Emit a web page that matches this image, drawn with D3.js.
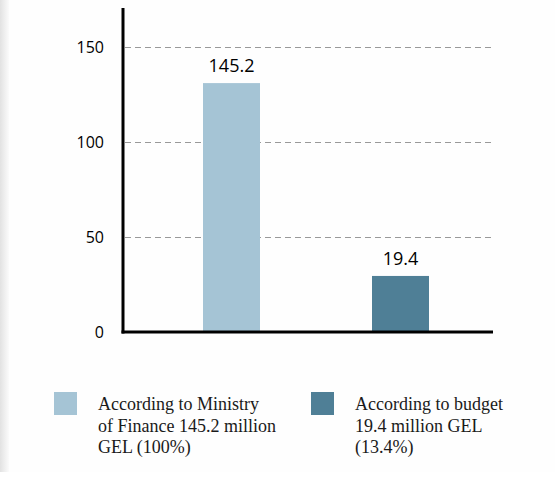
<!DOCTYPE html>
<html><head><meta charset="utf-8">
<script src="https://cdn.jsdelivr.net/npm/d3@7/dist/d3.min.js"></script>
<style>
html,body{margin:0;padding:0;background:#fff;}
svg{display:block;}
</style></head>
<body>
<svg id="c" width="555" height="479"></svg>
<script>
const categories = ["According to Ministry of Finance", "According to budget"];
// bar heights as drawn in the picture (labels differ from drawn heights)
const barValues = [131, 29.5];
const valueLabels = ["145.2", "19.4"];
const colors = ["#a5c4d5", "#4f7f96"];
const yTicks = [0, 50, 100, 150];
const legendLines = [
  ["According to Ministry", "of Finance 145.2 million", "GEL (100%)"],
  ["According to budget", "19.4 million GEL", "(13.4%)"]
];

const svg = d3.select("#c");
const defs = svg.append("defs");
const g = defs.append("linearGradient").attr("id","edge").attr("x1","0").attr("x2","1");
g.append("stop").attr("offset","0").attr("stop-color","#e2e2e2");
g.append("stop").attr("offset","1").attr("stop-color","#fbfbfb");
svg.append("rect").attr("x",0).attr("y",0).attr("width",555).attr("height",472).attr("fill","#fefefe");
svg.append("rect").attr("x",0).attr("y",0).attr("width",9).attr("height",472).attr("fill","url(#edge)");

const y = d3.scaleLinear().domain([0,170]).range([332,9]);
const x = d3.scaleBand().domain(categories).range([147,485]).paddingInner(112/169).paddingOuter(56/169);

// gridlines
svg.append("g").selectAll("line").data(yTicks.filter(d=>d>0)).join("line")
  .attr("x1",125).attr("x2",493)
  .attr("y1",d=>Math.round(y(d))+0.5).attr("y2",d=>Math.round(y(d))+0.5)
  .attr("stroke","#999").attr("stroke-width",1).attr("stroke-dasharray","6,4");

// tick labels
svg.append("g").selectAll("text").data(yTicks).join("text")
  .attr("x",104).attr("y",d=>y(d)+6)
  .attr("text-anchor","end")
  .style("font-family","'Open Sans', 'Noto Sans', sans-serif").style("font-size","16px").attr("fill","#000")
  .text(d=>d);

// bars
svg.append("g").selectAll("rect").data(categories).join("rect")
  .attr("x",d=>x(d)).attr("width",x.bandwidth())
  .attr("y",(d,i)=>y(barValues[i])).attr("height",(d,i)=>y(0)-y(barValues[i]))
  .attr("fill",(d,i)=>colors[i]);

// value labels
svg.append("g").selectAll("text").data(categories).join("text")
  .attr("x",d=>x(d)+x.bandwidth()/2).attr("y",(d,i)=>y(barValues[i])-11)
  .attr("text-anchor","middle")
  .style("font-family","'Open Sans', 'Noto Sans', sans-serif").style("font-size","18px").attr("fill","#000")
  .text((d,i)=>valueLabels[i]);

// axes lines
svg.append("line").attr("x1",123).attr("x2",123).attr("y1",8).attr("y2",333.5).attr("stroke","#000").attr("stroke-width",3);
svg.append("line").attr("x1",121.5).attr("x2",493).attr("y1",332).attr("y2",332).attr("stroke","#000").attr("stroke-width",3);

// legend
const legX = [54, 311];
const lg = svg.append("g").selectAll("g").data(categories).join("g")
  .attr("transform",(d,i)=>`translate(${legX[i]},392)`);
lg.append("rect").attr("width",23).attr("height",23).attr("fill",(d,i)=>colors[i]);
lg.append("text")
  .style("font-family","'Liberation Serif', 'DejaVu Serif', serif").style("font-size","18px").attr("fill","#1a1a1a")
  .selectAll("tspan").data((d,i)=>legendLines[i]).join("tspan")
  .attr("x",44).attr("y",(d,j)=>18+j*21.5).text(d=>d);
</script>
</body></html>
